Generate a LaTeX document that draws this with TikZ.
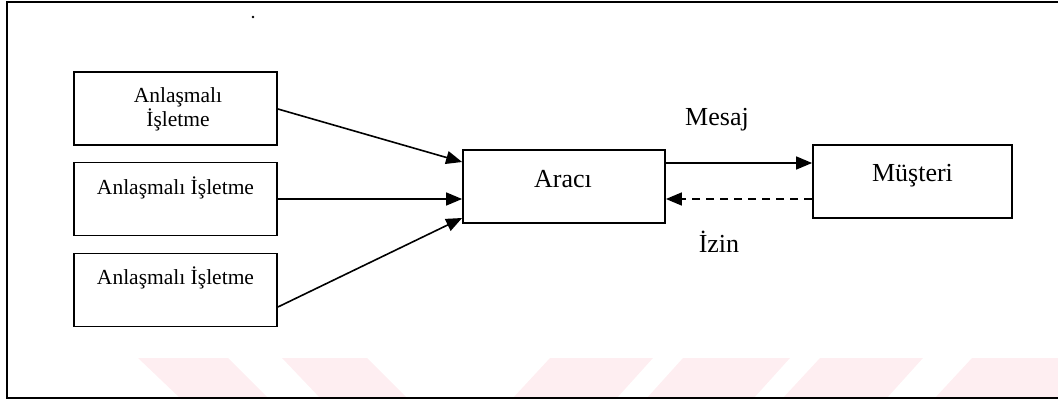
\documentclass[tikz,border=0pt]{standalone}
\usepackage{fontspec}
\setmainfont{Liberation Serif}
\usetikzlibrary{arrows.meta,calc}
\definecolor{wmpink}{RGB}{254,238,241}
\begin{document}
\begin{tikzpicture}[x=1pt,y=-1pt,
  box/.style={draw,line width=1.8pt,minimum width=203pt,minimum height=73pt,inner sep=0pt},
  smalltxt/.style={font=\fontsize{21.5}{24}\selectfont,anchor=base,inner sep=0pt},
  bigtxt/.style={font=\fontsize{26}{30}\selectfont,anchor=base,inner sep=0pt},
  arr/.style={line width=1.6pt,-{Triangle[length=16pt,width=13pt]}},
  dasharr/.style={arr,dash pattern=on 8pt off 6pt}]
\useasboundingbox (0,0) rectangle (1058,401);
% faint band of slanted shapes along the bottom
\begin{scope}[fill=wmpink]
  \fill (138,358) -- (228,358) -- (269,399) -- (181,399) -- cycle;
  \fill (282,358) -- (367,358) -- (408,399) -- (321,399) -- cycle;
  \fill (550,358) -- (653,358) -- (616,399) -- (512,399) -- cycle;
  \fill (683,358) -- (790,358) -- (753,399) -- (646,399) -- cycle;
  \fill (820,358) -- (923,358) -- (886,399) -- (782,399) -- cycle;
  \fill (972,358) -- (1060,358) -- (1060,399) -- (934,399) -- cycle;
\end{scope}
% frame, open on the right
\draw[line width=2pt] (1060,2) -- (7,2) -- (7,398) -- (1060,398);
\fill (253,17) circle (1.3pt);
% boxes
\node[box] (b1) at (175.5,108.5) {};
\node[box] (b2) at (175.5,199) {};
\node[box] (b3) at (175.5,290) {};
\node[box,minimum width=202pt] (ar) at (564,186.5) {};
\node[box,minimum width=199pt] (mu) at (912.5,181.5) {};
% texts
\node[smalltxt] (t1a) at ($(b1.center)+(2.5,-5.5)$) {Anlaşmalı};
\node[smalltxt] (t1b) at ($(b1.center)+(2.5,18.5)$) {İşletme};
\node[smalltxt] (t2) at ($(b2.center)+(0,-5)$) {Anlaşmalı İşletme};
\node[smalltxt] (t3) at ($(b3.center)+(0,-6)$) {Anlaşmalı İşletme};
\node[bigtxt] (tar) at ($(ar.center)+(-1,0.5)$) {Aracı};
\node[bigtxt] (tmu) at ($(mu.center)+(0,0.5)$) {Müşteri};
\node[bigtxt] (mesaj) at (717,126) {Mesaj};
\node[bigtxt] (izin) at (719,252) {İzin};
% connectors
\draw[arr] ($(b1.east)+(0,0.5)$) -- ($(ar.west)+(0,-24.5)$);
\draw[arr] (b2.east) -- ($(ar.west)+(0,12.5)$);
\draw[arr] ($(b3.east)+(0,17)$) -- ($(ar.west)+(0,31.5)$);
\draw[arr] ($(ar.east)+(0,-23.5)$) -- ($(mu.west)+(0,-18.5)$);
\draw[dasharr] ($(mu.west)+(0,17.5)$) -- ($(ar.east)+(0,12.5)$);
\end{tikzpicture}
\end{document}
